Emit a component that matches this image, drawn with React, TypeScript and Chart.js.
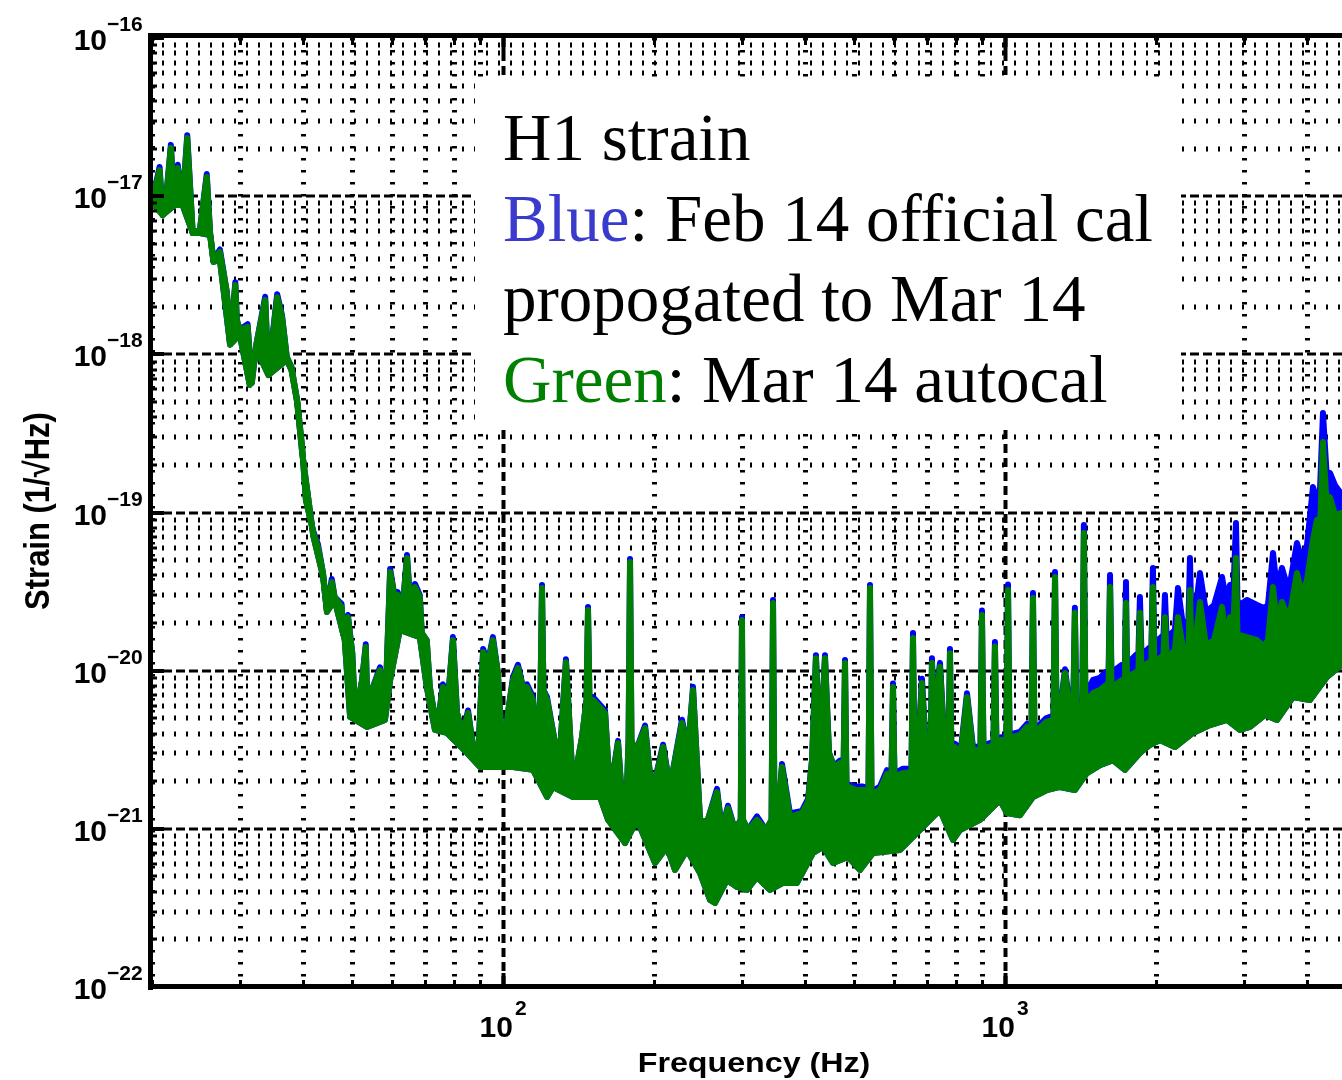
import React, { useEffect, useRef } from 'react';
import { Chart, registerables } from 'chart.js';

Chart.register(...registerables);

// ---------------- data ----------------
const freqTrace = [
  19.8, 20.1, 20.7, 21.0, 21.4, 21.8, 22.1, 22.5, 23.0, 23.5,
  24.1, 24.9, 25.7, 26.1, 26.5, 27.3, 28.2, 28.6, 29.3, 29.5,
  29.9, 31.0, 31.6, 32.3, 33.6, 34.1, 35.5, 36.3, 37.1, 37.9,
  38.9, 39.8, 40.5, 41.9, 42.8, 43.8, 44.6, 45.6, 46.2, 47.7,
  48.0, 49.1, 50.1, 50.8, 52.4, 53.3, 53.8, 54.8, 56.9, 58.2,
  59.6, 61.0, 61.7, 62.9, 64.4, 65.9, 66.8, 68.3, 68.9, 70.5,
  71.5, 73.9, 75.9, 77.7, 79.5, 81.0, 83.2, 85.2, 87.2, 89.2,
  91.3, 93.3, 95.5, 97.7, 100, 102.3, 104.7, 107.1, 109.6, 111.6,
  114.8, 116.9, 118.8, 119.6, 120.4, 122.4, 127.0, 128.7, 133.5, 136.0,
  137.9, 143.7, 146.7, 147.7, 148.7, 151.2, 159.7, 163.4, 169.5, 175.1,
  177.9, 179.1, 180.3, 183.3, 191.9, 198.1, 208.4, 215.1, 227.3, 233.7,
  239.1, 246.9, 255.0, 266.9, 273.1, 280.7, 289.9, 297.6, 299.3, 300.7,
  307.7, 320.6, 334.1, 342.8, 345.1, 347.5, 351.5, 359.6, 373.0, 394.1,
  405.2, 412.7, 420.2, 428.1, 438.0, 446.2, 456.4, 469.2, 476.8, 480.1,
  483.4, 489.0, 504.9, 521.4, 534.7, 538.4, 542.1, 548.4, 563.6, 582.0,
  594.2, 598.3, 602.4, 612.2, 626.4, 651.3, 655.8, 660.4, 668.0, 683.3,
  699.2, 710.5, 715.4, 720.4, 728.7, 742.2, 759.4, 771.7, 777.0, 782.4,
  795.0, 817.2, 840.1, 863.4, 893.7, 899.8, 906.0, 924.9, 948.5, 955.0,
  961.6, 981.7, 1007, 1014, 1021, 1037, 1071, 1106, 1129, 1137,
  1145, 1163, 1207, 1249, 1258, 1267, 1287, 1317, 1347, 1368,
  1378, 1387, 1426, 1436, 1446, 1463, 1497, 1546, 1589, 1608,
  1619, 1630, 1657, 1711, 1734, 1742, 1750, 1782, 1824, 1844,
  1857, 1870, 1900, 1935, 1957, 1971, 1984, 2017, 2069, 2083,
  2098, 2131, 2180, 2211, 2262, 2320, 2336, 2352, 2390, 2446,
  2514, 2609, 2706, 2756, 2807, 2846, 2885, 2905, 2938, 3034,
  3177, 3281, 3341, 3419, 3482, 3562, 3645, 3713, 3816, 3905,
  3996, 4107, 4183, 4241, 4300, 4379, 4440, 4543, 4691,
];

// Green: Mar 14 autocal
const strainGreen = [
  1.23e-17, 9.9e-18, 1.46e-17, 7.6e-18, 1.09e-17, 2.02e-17, 9.9e-18, 1.51e-17, 9.05e-18, 2.33e-17,
  5.85e-18, 6.11e-18, 1.32e-17, 5.85e-18, 3.95e-18, 4.44e-18, 2.44e-18, 1.18e-18, 2.74e-18, 1.65e-18,
  1.43e-18, 1.49e-18, 6.59e-19, 1.18e-18, 2.21e-18, 7.62e-19, 2.30e-18, 1.72e-18, 9.62e-19, 8.32e-19,
  5.14e-19, 2.60e-19, 1.20e-19, 7.42e-20, 6.05e-20, 4.15e-20, 2.42e-20, 3.64e-20, 2.92e-20, 2.53e-20,
  1.73e-20, 2.18e-20, 1.29e-20, 5.10e-21, 8.73e-21, 1.41e-20, 4.67e-21, 7.55e-21, 1.01e-20, 5.10e-21,
  4.21e-20, 2.80e-20, 3.01e-20, 2.18e-20, 5.16e-20, 1.81e-20, 3.38e-20, 2.92e-20, 1.73e-20, 1.56e-20,
  7.88e-21, 4.22e-21, 7.88e-21, 6.53e-21, 1.56e-20, 5.40e-21, 4.04e-21, 5.40e-21, 3.29e-21, 2.85e-21,
  1.31e-20, 1.12e-20, 1.56e-20, 9.67e-21, 2.72e-21, 5.40e-21, 8.73e-21, 1.04e-20, 7.88e-21, 7.88e-21,
  6.53e-21, 2.46e-21, 7.55e-21, 3.33e-20, 7.55e-21, 6.53e-21, 3.49e-21, 1.95e-21, 1.13e-20, 4.04e-21,
  1.84e-21, 3.81e-21, 6.53e-21, 2.42e-20, 6.53e-21, 6.53e-21, 5.40e-21, 1.68e-21, 3.49e-21, 8.14e-22,
  3.64e-21, 4.86e-20, 3.64e-21, 3.02e-21, 4.34e-21, 1.68e-21, 3.29e-21, 1.84e-21, 4.67e-21, 3.15e-21,
  7.55e-21, 1.14e-21, 1.10e-21, 1.71e-21, 9.83e-22, 1.35e-21, 9.83e-22, 1.14e-21, 2.09e-20, 1.14e-21,
  9.83e-22, 1.14e-21, 9.83e-22, 1.14e-21, 2.68e-20, 1.14e-21, 9.83e-22, 2.46e-21, 1.19e-21, 1.26e-21,
  1.48e-21, 2.72e-21, 1.20e-20, 2.93e-21, 1.20e-20, 3.02e-21, 2.46e-21, 2.61e-21, 2.23e-21, 1.12e-20,
  1.89e-21, 1.84e-21, 1.76e-21, 1.76e-21, 1.76e-21, 3.33e-20, 1.76e-21, 1.68e-21, 1.76e-21, 2.23e-21,
  2.10e-21, 7.88e-21, 2.10e-21, 2.19e-21, 2.25e-21, 2.29e-21, 1.61e-20, 2.29e-21, 2.36e-21, 8.36e-21,
  2.36e-21, 2.53e-21, 1.12e-20, 5.64e-21, 6.53e-21, 1.06e-20, 2.93e-21, 2.93e-21, 1.29e-20, 2.93e-21,
  3.29e-21, 3.06e-21, 6.82e-21, 3.15e-21, 3.15e-21, 2.25e-20, 3.15e-21, 3.29e-21, 3.39e-21, 1.42e-20,
  3.39e-21, 3.64e-21, 3.64e-21, 3.24e-20, 3.64e-21, 3.81e-21, 3.92e-21, 4.41e-21, 3.92e-21, 2.88e-20,
  3.92e-21, 4.22e-21, 4.74e-21, 4.88e-21, 3.91e-20, 4.88e-21, 5.25e-21, 9.67e-21, 5.48e-21, 5.64e-21,
  2.32e-20, 5.64e-21, 6.07e-21, 7.42e-20, 6.34e-21, 6.53e-21, 7.23e-21, 7.55e-21, 8.12e-21, 7.77e-21,
  3.38e-20, 7.77e-21, 8.12e-21, 8.73e-21, 8.73e-21, 2.68e-20, 8.73e-21, 9.39e-21, 9.81e-21, 9.81e-21,
  2.32e-20, 1.01e-20, 1.09e-20, 1.13e-20, 1.13e-20, 3.38e-20, 1.13e-20, 1.17e-20, 1.26e-20, 2.18e-20,
  1.26e-20, 1.26e-20, 1.35e-20, 2.18e-20, 1.39e-20, 1.35e-20, 3.24e-20, 1.35e-20, 1.45e-20, 2.72e-20,
  1.45e-20, 1.56e-20, 2.53e-20, 1.56e-20, 2.18e-20, 1.61e-20, 5.16e-20, 1.68e-20, 1.68e-20, 1.63e-20,
  1.56e-20, 1.42e-20, 1.56e-20, 3.38e-20, 1.94e-20, 2.72e-20, 2.25e-20, 2.49e-20, 4.15e-20, 3.01e-20,
  3.75e-20, 6.71e-20, 8.97e-20, 7.75e-20, 2.79e-19, 1.04e-19, 1.25e-19, 9.65e-20, 9.94e-20,
];

// Blue: Feb 14 official cal propagated to Mar 14
const strainBlue = [
  1.28e-17, 9.9e-18, 1.53e-17, 7.6e-18, 1.09e-17, 2.11e-17, 9.9e-18, 1.58e-17, 9.05e-18, 2.43e-17,
  5.85e-18, 6.11e-18, 1.38e-17, 5.85e-18, 3.95e-18, 4.60e-18, 2.44e-18, 1.18e-18, 2.86e-18, 1.65e-18,
  1.43e-18, 1.55e-18, 6.59e-19, 1.18e-18, 2.31e-18, 7.62e-19, 2.40e-18, 1.76e-18, 9.62e-19, 8.32e-19,
  5.14e-19, 2.60e-19, 1.20e-19, 7.60e-20, 6.30e-20, 4.15e-20, 2.42e-20, 3.80e-20, 2.92e-20, 2.64e-20,
  1.73e-20, 2.25e-20, 1.29e-20, 5.10e-21, 8.73e-21, 1.47e-20, 4.67e-21, 7.55e-21, 1.05e-20, 5.10e-21,
  4.40e-20, 2.80e-20, 3.14e-20, 2.18e-20, 5.39e-20, 1.81e-20, 3.53e-20, 3.00e-20, 1.73e-20, 1.56e-20,
  7.88e-21, 4.22e-21, 8.20e-21, 6.53e-21, 1.63e-20, 5.40e-21, 4.04e-21, 5.60e-21, 3.29e-21, 2.85e-21,
  1.37e-20, 1.12e-20, 1.63e-20, 9.67e-21, 2.72e-21, 5.40e-21, 9.10e-21, 1.09e-20, 7.88e-21, 8.20e-21,
  6.80e-21, 2.46e-21, 7.55e-21, 3.48e-20, 7.55e-21, 6.80e-21, 3.49e-21, 1.95e-21, 1.18e-20, 4.04e-21,
  1.84e-21, 3.81e-21, 6.53e-21, 2.53e-20, 6.53e-21, 6.80e-21, 5.60e-21, 1.68e-21, 3.60e-21, 8.14e-22,
  3.64e-21, 5.08e-20, 3.64e-21, 3.02e-21, 4.50e-21, 1.68e-21, 3.40e-21, 1.84e-21, 4.90e-21, 3.15e-21,
  7.90e-21, 1.14e-21, 1.10e-21, 1.79e-21, 9.83e-22, 1.40e-21, 9.83e-22, 1.14e-21, 2.18e-20, 1.14e-21,
  9.83e-22, 1.20e-21, 9.83e-22, 1.14e-21, 2.80e-20, 1.14e-21, 9.83e-22, 2.57e-21, 1.25e-21, 1.30e-21,
  1.55e-21, 2.72e-21, 1.25e-20, 2.93e-21, 1.25e-20, 3.02e-21, 2.50e-21, 2.70e-21, 2.23e-21, 1.17e-20,
  1.89e-21, 1.90e-21, 1.85e-21, 1.85e-21, 1.80e-21, 3.48e-20, 1.80e-21, 1.75e-21, 1.85e-21, 2.35e-21,
  2.20e-21, 8.30e-21, 2.20e-21, 2.30e-21, 2.40e-21, 2.40e-21, 1.73e-20, 2.40e-21, 2.50e-21, 8.90e-21,
  2.50e-21, 2.65e-21, 1.20e-20, 5.90e-21, 6.90e-21, 1.12e-20, 3.10e-21, 3.10e-21, 1.37e-20, 3.10e-21,
  3.45e-21, 3.20e-21, 7.20e-21, 3.30e-21, 3.30e-21, 2.40e-20, 3.30e-21, 3.45e-21, 3.55e-21, 1.52e-20,
  3.55e-21, 3.80e-21, 3.80e-21, 3.50e-20, 3.80e-21, 4.00e-21, 4.10e-21, 4.60e-21, 4.10e-21, 3.10e-20,
  4.10e-21, 4.45e-21, 5.00e-21, 5.20e-21, 4.20e-20, 5.20e-21, 5.60e-21, 1.02e-20, 5.90e-21, 6.10e-21,
  2.50e-20, 6.10e-21, 6.60e-21, 8.34e-20, 7.00e-21, 7.55e-21, 8.73e-21, 8.99e-21, 9.81e-21, 9.39e-21,
  4.03e-20, 9.39e-21, 1.01e-20, 1.09e-20, 1.09e-20, 3.64e-20, 1.09e-20, 1.17e-20, 1.26e-20, 1.26e-20,
  2.92e-20, 1.31e-20, 1.31e-20, 1.39e-20, 1.39e-20, 4.46e-20, 1.39e-20, 1.56e-20, 1.68e-20, 3.01e-20,
  1.68e-20, 1.68e-20, 1.81e-20, 3.33e-20, 1.94e-20, 2.09e-20, 5.16e-20, 2.09e-20, 2.25e-20, 4.15e-20,
  2.35e-20, 2.60e-20, 3.91e-20, 2.80e-20, 3.48e-20, 2.72e-20, 8.58e-20, 2.80e-20, 2.60e-20, 2.80e-20,
  2.60e-20, 2.49e-20, 2.60e-20, 5.55e-20, 3.24e-20, 4.46e-20, 3.48e-20, 3.85e-20, 6.41e-20, 5.01e-20,
  6.23e-20, 1.45e-19, 1.20e-19, 1.39e-19, 4.26e-19, 1.61e-19, 1.78e-19, 1.49e-19, 1.29e-19,
];

// lower edge of the trace / noise band (shared by both calibrations)
const freqFloor = [
  19.8, 21.0, 22.2, 23.0, 24.1, 24.9, 26.1, 26.5, 27.3, 28.6,
  29.9, 31.3, 32.3, 34.1, 37.1, 37.9, 38.9, 39.8, 41.9, 43.8,
  44.6, 46.2, 48.4, 49.6, 53.6, 58.2, 59.6, 62.3, 68.3, 70.5,
  73.2, 77.3, 84.8, 90.0, 104.7, 114.8, 122.4, 125.8, 137.9, 156.1,
  161.9, 175.1, 185.0, 200.9, 212.2, 220.1, 232.6, 246.9, 258.5, 264.5,
  279.4, 292.6, 306.3, 320.6, 340.4, 361.3, 385.2, 414.6, 434.1, 454.3,
  486.7, 514.3, 545.9, 617.8, 742.2, 787.8, 813.5, 891.6, 977.2, 1009,
  1071, 1137, 1212, 1287, 1378, 1456, 1546, 1641, 1734, 1857,
  1944, 2036, 2180, 2368, 2561, 2769, 2938, 3076, 3296, 3482,
  3747, 4051, 4379, 4691,
];
const strainFloor = [
  9.46e-18, 7.60e-18, 8.79e-18, 8.79e-18, 5.85e-18, 5.85e-18, 5.68e-18, 3.84e-18, 3.95e-18, 1.15e-18,
  1.33e-18, 6.40e-19, 1.07e-18, 7.40e-19, 9.21e-19, 7.96e-19, 5.00e-19, 2.41e-19, 7.10e-20, 3.97e-20,
  2.35e-20, 2.80e-20, 1.56e-20, 5.10e-21, 4.41e-21, 4.88e-21, 8.73e-21, 1.81e-20, 1.63e-20, 7.88e-21,
  4.22e-21, 4.04e-21, 3.02e-21, 2.46e-21, 2.46e-21, 2.36e-21, 1.59e-21, 1.84e-21, 1.59e-21, 1.59e-21,
  1.14e-21, 8.14e-22, 1.14e-21, 6.08e-22, 7.68e-22, 5.49e-22, 7.35e-22, 5.26e-22, 3.55e-22, 3.40e-22,
  4.75e-22, 4.29e-22, 4.11e-22, 4.96e-22, 4.11e-22, 4.55e-22, 4.55e-22, 7.04e-22, 7.68e-22, 6.08e-22,
  6.64e-22, 5.49e-22, 7.04e-22, 7.35e-22, 1.32e-21, 8.51e-22, 9.83e-22, 1.14e-21, 1.52e-21, 1.26e-21,
  1.22e-21, 1.59e-21, 1.76e-21, 1.84e-21, 1.76e-21, 2.25e-21, 2.53e-21, 2.72e-21, 2.36e-21, 3.02e-21,
  3.39e-21, 3.64e-21, 3.29e-21, 4.04e-21, 4.53e-21, 4.88e-21, 4.22e-21, 4.41e-21, 5.25e-21, 4.88e-21,
  6.82e-21, 6.53e-21, 9.12e-21, 1.09e-20,
];

// axes
const xRange = [19.81, 4692];
const yRange = [1e-22, 1e-16];
const xTickExponents = [2, 3];
const yTickExponents = [-16, -17, -18, -19, -20, -21, -22];
const xGridFreqs = [20, 30, 40, 50, 60, 70, 80, 90, 100, 200, 300, 400, 500, 600, 700, 800, 900, 1000, 2000, 3000, 4000];
const xAxisTitle = 'Frequency (Hz)';
const yAxisTitle = 'Strain (1/\u221AHz)';

// annotation text
const noteLines = [
  [{ t: 'H1 strain', c: '#000000' }],
  [{ t: 'Blue', c: '#3a3acc' }, { t: ': Feb 14 official cal', c: '#000000' }],
  [{ t: 'propogated to Mar 14', c: '#000000' }],
  [{ t: 'Green', c: '#008000' }, { t: ': Mar 14 autocal', c: '#000000' }],
];

const GREEN = '#008000';
const BLUE = '#0000ff';
const SANS = '"Liberation Sans", Arial, Helvetica, sans-serif';
const SERIF = '"Liberation Serif", "Times New Roman", Times, serif';

function toPoints(xs: number[], ys: number[]) {
  const n = Math.min(xs.length, ys.length);
  const out: { x: number; y: number }[] = [];
  for (let i = 0; i < n; i++) out.push({ x: xs[i], y: ys[i] });
  return out;
}

function seg(ctx: CanvasRenderingContext2D, x1: number, y1: number, x2: number, y2: number) {
  ctx.beginPath();
  ctx.moveTo(x1, y1);
  ctx.lineTo(x2, y2);
  ctx.stroke();
}

const decor = {
  id: 'matlabDecor',
  beforeDatasetsDraw(chart: any) {
    const { ctx, chartArea: a, scales } = chart;
    const xs = scales.x;
    const ys = scales.y;
    ctx.save();
    ctx.strokeStyle = '#000';
    ctx.lineCap = 'butt';
    // horizontal grid lines
    for (let e = -22; e < -16; e++) {
      for (let m = 1; m <= 9; m++) {
        const py = Math.round(ys.getPixelForValue(m * Math.pow(10, e)));
        if (m === 1) {
          if (e === -22) continue;
          ctx.lineWidth = 3;
          ctx.setLineDash([9, 4]);
        } else {
          ctx.lineWidth = 5;
          ctx.setLineDash([2, 10]);
        }
        seg(ctx, a.left, py, a.right, py);
      }
    }
    // vertical grid lines
    for (const f of xGridFreqs) {
      const px = Math.round(xs.getPixelForValue(f)) + 0.5;
      const major = f === 100 || f === 1000;
      if (major) {
        ctx.lineWidth = 4;
        ctx.setLineDash([9, 5]);
      } else {
        ctx.lineWidth = 5;
        ctx.setLineDash([2.5, 9.5]);
      }
      seg(ctx, px, a.top, px, a.bottom);
    }
    ctx.setLineDash([]);
    // annotation box (white, over the grid)
    ctx.fillStyle = '#ffffff';
    ctx.fillRect(475, 77, 706, 353);
    ctx.font = `67px ${SERIF}`;
    ctx.textBaseline = 'alphabetic';
    ctx.textAlign = 'left';
    const baselines = [160, 240.5, 321, 401.5];
    noteLines.forEach((parts, i) => {
      let x = 503;
      for (const p of parts) {
        ctx.fillStyle = p.c;
        ctx.fillText(p.t, x, baselines[i]);
        x += ctx.measureText(p.t).width;
      }
    });
    ctx.restore();
  },
  afterDatasetsDraw(chart: any) {
    const { ctx, chartArea: a, scales } = chart;
    const xs = scales.x;
    const ys = scales.y;
    ctx.save();
    ctx.fillStyle = '#000';
    ctx.strokeStyle = '#000';
    // frame
    ctx.fillRect(a.left - 2, a.top - 5, 5, a.bottom - a.top + 8);
    ctx.fillRect(a.left - 2, a.top - 5, a.right - a.left + 4, 5);
    ctx.fillRect(a.left - 2, a.bottom - 3, a.right - a.left + 4, 5);
    // x ticks (inward, top and bottom)
    for (const f of xGridFreqs) {
      const px = Math.round(xs.getPixelForValue(f)) + 0.5;
      const major = f === 100 || f === 1000;
      ctx.lineWidth = major ? 4 : 3;
      const len = major ? 14 : 7;
      seg(ctx, px, a.bottom, px, a.bottom - len);
      seg(ctx, px, a.top, px, a.top + len);
    }
    // y ticks
    for (let e = -22; e <= -16; e++) {
      for (let m = 1; m <= 9; m++) {
        const v = m * Math.pow(10, e);
        if (v > 1e-16) break;
        const py = Math.round(ys.getPixelForValue(v));
        const major = m === 1;
        ctx.lineWidth = major ? 4 : 3;
        seg(ctx, a.left, py, a.left + (major ? 14 : 7), py);
      }
    }
    // tick labels
    ctx.textBaseline = 'alphabetic';
    for (const e of yTickExponents) {
      const py = ys.getPixelForValue(Math.pow(10, e));
      ctx.font = `bold 30px ${SANS}`;
      ctx.textAlign = 'right';
      ctx.fillText('10', 107, py + 12);
      ctx.font = `bold 21px ${SANS}`;
      ctx.textAlign = 'left';
      ctx.fillText('\u2212' + String(Math.abs(e)), 107, py - 7);
    }
    for (const e of xTickExponents) {
      const px = xs.getPixelForValue(Math.pow(10, e));
      ctx.font = `bold 30px ${SANS}`;
      ctx.textAlign = 'right';
      ctx.fillText('10', px + 10, 1037);
      ctx.font = `bold 21px ${SANS}`;
      ctx.textAlign = 'left';
      ctx.fillText(String(e), px + 12, 1015);
    }
    // axis titles (the figure is slightly stretched horizontally)
    ctx.font = `bold 28px ${SANS}`;
    ctx.save();
    ctx.translate(754, 1072);
    ctx.scale(1.15, 1);
    ctx.textAlign = 'center';
    ctx.fillText(xAxisTitle, 0, 0);
    ctx.restore();
    ctx.save();
    ctx.font = `bold 31px ${SANS}`;
    ctx.translate(39, 511);
    ctx.scale(1.13, 1);
    ctx.rotate(-Math.PI / 2);
    ctx.textAlign = 'center';
    ctx.textBaseline = 'middle';
    ctx.fillText(yAxisTitle, 0, 0);
    ctx.restore();
    ctx.restore();
  },
};

const lineStyle = {
  borderWidth: 6,
  pointRadius: 0,
  pointHoverRadius: 0,
  tension: 0,
  borderJoinStyle: 'round' as const,
  borderCapStyle: 'round' as const,
};

export default function App() {
  const ref = useRef<HTMLCanvasElement>(null);
  useEffect(() => {
    const canvas = ref.current;
    if (!canvas) return;
    const chart = new Chart(canvas, {
      type: 'line',
      data: {
        datasets: [
          { label: 'Green: Mar 14 autocal', data: toPoints(freqTrace, strainGreen), borderColor: GREEN, backgroundColor: GREEN, fill: false, ...lineStyle },
          { label: 'Green band', data: toPoints(freqFloor, strainFloor), borderColor: GREEN, backgroundColor: GREEN, fill: '-1', ...lineStyle },
          { label: 'Blue: Feb 14 official cal', data: toPoints(freqTrace, strainBlue), borderColor: BLUE, backgroundColor: BLUE, fill: false, ...lineStyle },
          { label: 'Blue band', data: toPoints(freqFloor, strainFloor), borderColor: BLUE, backgroundColor: BLUE, fill: '-1', ...lineStyle },
        ],
      },
      options: {
        responsive: false,
        maintainAspectRatio: false,
        animation: false,
        devicePixelRatio: 1,
        events: [],
        layout: { padding: { left: 150, top: 38, right: 0, bottom: 93 } },
        scales: {
          x: { type: 'logarithmic', min: xRange[0], max: xRange[1], display: false },
          y: { type: 'logarithmic', min: yRange[0], max: yRange[1], display: false },
        },
        plugins: {
          legend: { display: false },
          tooltip: { enabled: false },
        },
      } as any,
      plugins: [decor],
    });
    return () => chart.destroy();
  }, []);
  return (
    <div style={{ position: 'fixed', left: 0, top: 0, width: 1342, height: 1080, background: '#fff' }}>
      <canvas ref={ref} width={1342} height={1080} style={{ display: 'block', width: 1342, height: 1080 }} />
    </div>
  );
}
